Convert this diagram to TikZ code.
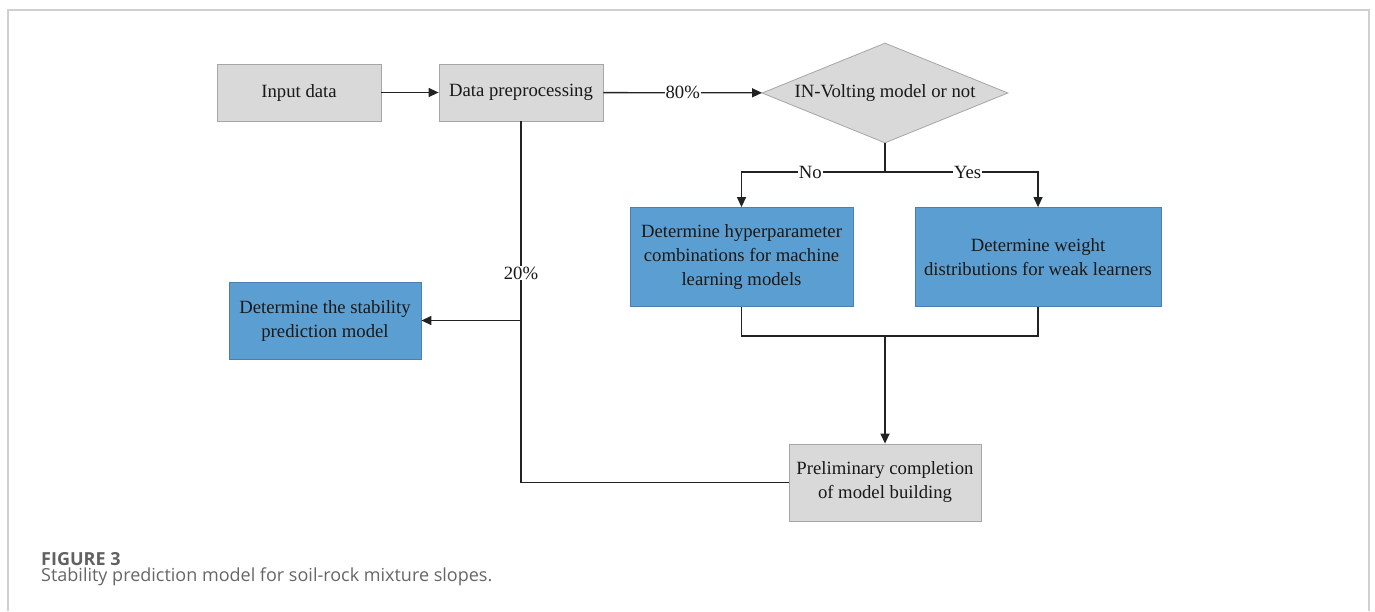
\documentclass[tikz,border=0pt]{standalone}
\usepackage{fontspec}
\setmainfont{Liberation Serif}
\newfontfamily\capfont{Open Sans}
\usetikzlibrary{arrows.meta,shapes.geometric}
\definecolor{boxgray}{HTML}{D9D9D9}
\definecolor{boxgrayline}{HTML}{A6A6A6}
\definecolor{boxblue}{HTML}{5B9FD2}
\definecolor{boxblueline}{HTML}{4A7FB0}
\definecolor{linecol}{HTML}{222222}
\definecolor{framecol}{HTML}{D0D0D0}
\definecolor{capcol}{HTML}{666666}
\begin{document}
\begin{tikzpicture}[x=1pt,y=-1pt,
  txt/.style={font=\fontsize{18.7}{24}\selectfont, text=black!90, align=center},
  graybox/.style={txt, rectangle, draw=boxgrayline, fill=boxgray, line width=0.8pt, inner sep=0pt},
  bluebox/.style={txt, rectangle, draw=boxblueline, fill=boxblue, line width=0.8pt, inner sep=0pt},
  conn/.style={draw=linecol, line width=1.3pt},
  arr/.style={conn, -{Triangle[length=10pt,width=9pt]}},
  lab/.style={txt, fill=white, inner sep=1pt}
]
\useasboundingbox (0,0) rectangle (1375,611);
% frame
\draw[framecol, line width=1.5pt] (8,611) -- (8,10) -- (1369,10) -- (1369,611);

\node[graybox, minimum width=164pt, minimum height=57pt] (inp) at (299,92.5) {Input data};
\node[graybox, minimum width=164pt, minimum height=57pt] (prep) at (521,92.5) {Data preprocessing};
\node[graybox, diamond, aspect=2.46, minimum width=246pt, minimum height=100pt] (dia) at (885,93) {IN-Volting model or not};
\node[bluebox, minimum width=223pt, minimum height=99pt] (hyp) at (741.5,257) {Determine hyperparameter\\combinations for machine\\learning models};
\node[bluebox, minimum width=246pt, minimum height=99pt] (wgt) at (1038,257) {Determine weight\\distributions for weak learners};
\node[bluebox, minimum width=192pt, minimum height=77pt] (stab) at (325,320.5) {Determine the stability\\prediction model};
\node[graybox, minimum width=192pt, minimum height=77pt] (prelim) at (885,482.5) {Preliminary completion\\of model building};

\coordinate (br) at (885,172);
\coordinate (jn) at (885,336);

\draw[arr] (inp) -- (prep);
\draw[arr] (prep) -- node[lab]{80\%} (dia);
\draw[conn] (dia.south) -- (br);
\draw[arr] (br) -| node[lab, pos=0.26]{No} (hyp.north);
\draw[arr] (br) -| node[lab, pos=0.27]{Yes} (wgt.north);
\draw[conn] (hyp.south) |- (jn);
\draw[conn] (wgt.south) |- (jn);
\draw[arr] (jn) -- (prelim.north);
\draw[conn] (prelim.west) -| node[lab, pos=0.79]{20\%} (prep.south);
\draw[arr] (prep.south |- stab.east) -- (stab.east);

\node[anchor=base west, inner sep=0pt, text=capcol!95!black, font=\capfont\bfseries\fontsize{18}{20}\selectfont] (fig) at (41,565) {FIGURE 3};
\node[anchor=base west, inner sep=0pt, text=capcol, font=\capfont\fontsize{18}{20}\selectfont] (cap) at (41,581) {Stability prediction model for soil-rock mixture slopes.};
\end{tikzpicture}
\end{document}
